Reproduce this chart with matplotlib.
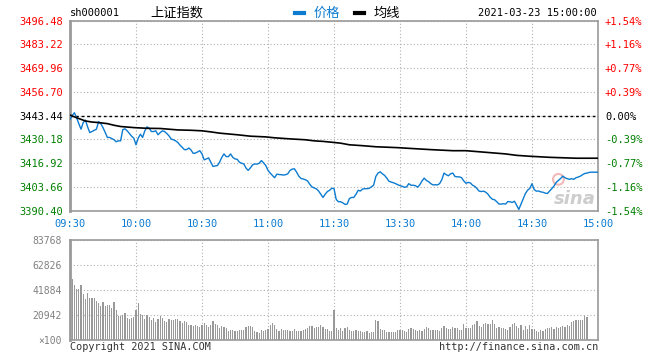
import matplotlib
matplotlib.use('Agg')
import matplotlib.pyplot as plt
from matplotlib.lines import Line2D

# --- data ---
prev_close = 3443.44
price_ticks = [3390.40, 3403.66, 3416.92, 3430.18, 3443.44, 3456.70, 3469.96, 3483.22, 3496.48]
pct_labels = ['-1.54%', '-1.16%', '-0.77%', '-0.39%', '0.00%', '+0.39%', '+0.77%', '+1.16%', '+1.54%']
time_labels = ['09:30', '10:00', '10:30', '11:00', '11:30', '13:30', '14:00', '14:30', '15:00']
vol_ticks = [0, 20942, 41884, 62826, 83768]
vol_labels = ['\u00d7100', '20942', '41884', '62826', '83768']

# one price per minute, 09:30 .. 15:00 (241 points)
price = [
    3441.4, 3443.5, 3445.1, 3442.3, 3439.0, 3435.9, 3439.6, 3441.0, 3437.2, 3434.0,
    3434.6, 3435.3, 3435.9, 3440.1, 3439.0, 3436.8, 3434.0, 3431.3, 3431.3, 3430.7,
    3430.0, 3428.9, 3429.4, 3429.4, 3435.7, 3436.1, 3435.0, 3433.5, 3432.0, 3430.9,
    3427.2, 3430.9, 3433.1, 3431.3, 3435.0, 3437.2, 3436.4, 3434.6, 3434.6, 3435.0,
    3432.8, 3434.0, 3435.0, 3434.6, 3433.5, 3432.2, 3430.4, 3430.0, 3429.4, 3428.5,
    3427.0, 3425.8, 3424.5, 3424.5, 3425.4, 3424.3, 3422.4, 3422.6, 3423.2, 3423.9,
    3422.1, 3418.8, 3419.3, 3419.9, 3417.5, 3415.1, 3415.4, 3415.6, 3417.5, 3420.2,
    3422.1, 3420.6, 3420.6, 3422.1, 3420.2, 3419.3, 3419.1, 3417.5, 3416.9, 3416.5,
    3414.2, 3412.9, 3414.3, 3416.0, 3416.5, 3416.4, 3416.9, 3418.4, 3417.1, 3415.6,
    3412.9, 3411.4, 3410.1, 3408.8, 3410.8, 3410.6, 3410.5, 3410.3, 3410.5, 3411.0,
    3412.9, 3413.6, 3413.8, 3411.9, 3409.7, 3408.4, 3408.1, 3407.7, 3407.0, 3405.1,
    3403.7, 3403.1, 3402.6, 3401.4, 3399.6, 3397.8, 3399.6, 3401.1, 3401.8, 3402.9,
    3402.8, 3396.7, 3395.4, 3395.4, 3394.8, 3393.9, 3394.1, 3397.2, 3397.8, 3397.8,
    3399.6, 3401.8, 3401.4, 3402.5, 3402.7, 3402.7, 3402.9, 3403.7, 3404.6, 3409.5,
    3411.4, 3412.1, 3411.0, 3410.1, 3408.6, 3406.8, 3406.4, 3406.0, 3405.5, 3404.9,
    3404.4, 3404.0, 3403.5, 3403.7, 3405.5, 3404.6, 3404.6, 3404.4, 3403.5, 3404.9,
    3407.0, 3408.6, 3407.3, 3406.6, 3405.5, 3404.8, 3404.9, 3404.8, 3405.5, 3407.7,
    3411.4, 3410.5, 3409.9, 3411.0, 3411.4, 3409.5, 3409.3, 3409.3, 3408.8, 3407.0,
    3405.7, 3406.2, 3405.9, 3404.6, 3404.0, 3402.7, 3401.3, 3401.1, 3401.3, 3400.7,
    3399.6, 3397.9, 3396.8, 3396.5, 3395.4, 3394.1, 3394.1, 3394.3, 3394.1, 3395.5,
    3395.4, 3395.0, 3395.7, 3393.5, 3391.1, 3394.1, 3397.2, 3400.0, 3401.8, 3402.9,
    3405.5, 3402.2, 3401.3, 3401.4, 3400.9, 3400.7, 3400.2, 3400.0, 3401.4, 3402.7,
    3404.2, 3406.2, 3407.3, 3408.4, 3409.7, 3408.8, 3408.3, 3407.9, 3408.3, 3407.9,
    3408.8, 3409.2, 3409.7, 3410.5, 3411.2, 3411.4, 3411.8, 3411.9, 3411.9, 3411.9,
    3411.9,
]

# average line (minute, value)
avg_t = [0, 3, 5, 7, 10, 13, 17, 20, 23, 29, 35, 41, 49, 55, 60, 64, 68, 76, 82, 89,
         93, 100, 107, 111, 115, 120, 123, 127, 133, 139, 149, 157, 164, 174, 180,
         184, 189, 198, 203, 209, 218, 230, 240]
avg_v = [3443.8, 3442.3, 3441.4, 3440.5, 3439.9, 3439.6, 3439.0, 3438.1, 3437.4, 3436.8,
         3436.4, 3436.3, 3435.5, 3435.3, 3435.0, 3434.4, 3433.7, 3432.8, 3432.0, 3431.6,
         3431.1, 3430.5, 3430.0, 3429.4, 3429.1, 3428.5, 3428.1, 3427.2, 3426.7, 3426.1,
         3425.6, 3425.0, 3424.5, 3423.9, 3423.9, 3423.5, 3423.0, 3422.1, 3421.3, 3420.8,
         3420.2, 3419.7, 3419.7]

# volume per minute (x100)
volume = [
    83768, 50800, 46100, 42400, 43000, 46100, 38300, 34600, 39100, 35200,
    35200, 35200, 32700, 30700, 28500, 31800, 28500, 29000, 29000, 26800,
    31800, 25100, 20100, 20100, 21200, 22300, 18700, 17300, 18400, 19300,
    25100, 31300, 21500, 20700, 17900, 20700, 19300, 16800, 18400, 15100,
    17300, 20100, 18700, 15900, 15100, 17300, 16800, 16800, 17900, 17300,
    15900, 14500, 15600, 15100, 12600, 12600, 11700, 12300, 11700, 10900,
    12300, 14000, 12300, 11200, 12300, 15900, 13100, 12300, 10300, 11700,
    10900, 10300, 7800, 8100, 8100, 7500, 7800, 8100, 8100, 8100,
    11200, 11700, 11700, 10600, 7800, 7000, 6100, 8100, 7500, 8100,
    9500, 12600, 14000, 12300, 8900, 7300, 8900, 8100, 8100, 8100,
    7300, 7300, 8900, 7800, 7500, 7800, 8400, 8900, 10100, 11700,
    11700, 10300, 10900, 11200, 12300, 10900, 9500, 8900, 7300, 7300,
    25100, 10300, 8400, 10100, 7800, 10300, 11200, 8400, 7500, 7500,
    8100, 7500, 7500, 6700, 6700, 7500, 6100, 6700, 6700, 16800,
    15600, 8900, 8400, 8400, 6700, 6700, 7000, 6400, 6400, 8100,
    8400, 8100, 7500, 6700, 9500, 10300, 9500, 8100, 7500, 8100,
    7500, 9500, 10900, 10100, 8400, 8400, 8400, 8400, 7500, 10300,
    11700, 10300, 8900, 9500, 10900, 10100, 10100, 8400, 8400, 13100,
    10300, 10300, 10300, 12300, 13100, 15900, 11700, 10900, 13100, 14000,
    13100, 13700, 16500, 13100, 10300, 11200, 10300, 9800, 9500, 8400,
    11200, 13100, 14000, 11700, 10100, 12300, 8400, 11700, 9500, 12300,
    9500, 8900, 7500, 6700, 8400, 7800, 8900, 9800, 10100, 11200,
    9500, 10600, 10100, 11200, 11700, 10600, 12300, 11700, 15100, 15900,
    16800, 16800, 16800, 16800, 20100, 19500, 600, 0, 0, 0,
    0,
]

minutes = list(range(len(price)))

MONO = ['DejaVu Sans Mono']
CJK = ['Noto Sans CJK SC', 'DejaVu Sans']
plt.rcParams['font.family'] = MONO

RED, GREEN, BLUE, GRID, EDGE = '#ff0000', '#008000', '#0c7bd0', '#b0b0b0', '#9a9a9a'

def colour_for(v):
    if abs(v - prev_close) < 1e-6:
        return 'black'
    return RED if v > prev_close else GREEN

W, H = 660.0, 360.0
fig = plt.figure(figsize=(6.6, 3.6), dpi=100)
fig.patch.set_facecolor('white')

# price panel
ax = fig.add_axes([70 / W, 1 - 210.7 / H, 528 / W, 190 / H])
ax.plot(minutes, price, color=BLUE, lw=1.0, zorder=3)
ax.plot(avg_t, avg_v, color='black', lw=1.2, zorder=3)
ax.set_xlim(0, 240)
ax.set_ylim(price_ticks[0], price_ticks[-1])
ax.set_xticks(range(0, 241, 30))
ax.set_xticklabels(time_labels)
ax.set_yticks(price_ticks)
ax.set_yticklabels(['%.2f' % v for v in price_ticks])
ax.grid(True, color=GRID, ls=(0, (1, 2)), lw=0.8)
ax.axhline(prev_close, color='black', lw=1.0, ls=(0, (2, 2)), zorder=2)
ax.tick_params(length=0, labelsize=7.5)
ax.tick_params(axis='y', pad=5)
ax.tick_params(axis='x', pad=6, labelcolor=BLUE)
for lab, v in zip(ax.get_yticklabels(), price_ticks):
    lab.set_color(colour_for(v))
for s in ax.spines.values():
    s.set_color(EDGE)
    s.set_linewidth(1.2)
ax.spines['left'].set_linewidth(2)

ax2 = ax.twinx()
ax2.set_ylim(price_ticks[0], price_ticks[-1])
ax2.set_yticks(price_ticks)
ax2.set_yticklabels(pct_labels)
ax2.tick_params(length=0, labelsize=7.5, pad=5)
for lab, v in zip(ax2.get_yticklabels(), price_ticks):
    lab.set_color(colour_for(v))
for s in ax2.spines.values():
    s.set_visible(False)

# watermark
ax.text(0.995, 0.015, 'sina', transform=ax.transAxes, ha='right', va='bottom',
        fontsize=13, fontstyle='italic', fontweight='bold', color='#cdcdcd',
        family=['DejaVu Sans'], zorder=1)
ax.scatter([0.925], [0.165], s=60, transform=ax.transAxes, facecolor='none',
           edgecolor='#f3b9b9', lw=1.5, zorder=1)

# volume panel
axv = fig.add_axes([70 / W, 1 - 340 / H, 528 / W, 100 / H])
axv.bar(minutes, volume, width=0.5, color='#999999', lw=0, zorder=3)
axv.set_xlim(0, 240)
axv.set_ylim(0, vol_ticks[-1])
axv.set_xticks(range(0, 241, 30))
axv.set_xticklabels([])
axv.set_yticks(vol_ticks)
axv.set_yticklabels(vol_labels)
axv.grid(True, color=GRID, ls=(0, (1, 2)), lw=0.8)
axv.tick_params(length=0, labelsize=7, pad=6, labelcolor='#808080')
for s in axv.spines.values():
    s.set_color(EDGE)
    s.set_linewidth(1.2)
axv.spines['left'].set_linewidth(2)

# header
ty = 1 - 13 / H
fig.text(70 / W, ty, 'sh000001', ha='left', va='center', fontsize=7.5)
fig.text(150 / W, ty, '上证指数', ha='left', va='center', fontsize=9.5, family=CJK)
fig.add_artist(Line2D([295 / W, 304 / W], [ty, ty], color=BLUE, lw=3))
fig.text(314 / W, ty, '价格', ha='left', va='center', fontsize=9.5, color=BLUE, family=CJK)
fig.add_artist(Line2D([355 / W, 364 / W], [ty, ty], color='black', lw=3))
fig.text(374 / W, ty, '均线', ha='left', va='center', fontsize=9.5, family=CJK)
fig.text(597 / W, ty, '2021-03-23 15:00:00', ha='right', va='center', fontsize=7.5)

# footer
fy = 1 - 347 / H
fig.text(70 / W, fy, 'Copyright 2021 SINA.COM', ha='left', va='center', fontsize=7.3, color='#333333')
fig.text(598 / W, fy, 'http://finance.sina.com.cn', ha='right', va='center', fontsize=7.3, color='#333333')

plt.savefig('out.png', dpi=100)
